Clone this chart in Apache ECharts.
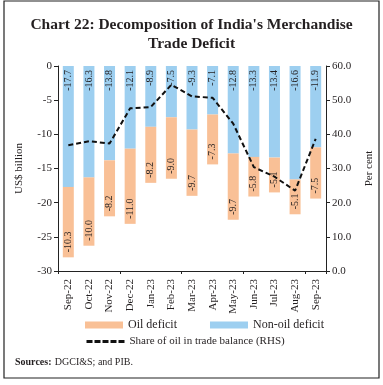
<!DOCTYPE html>
<html><head><meta charset="utf-8">
<script src="https://cdn.jsdelivr.net/npm/echarts@6/dist/echarts.min.js"></script>
<style>html,body{margin:0;padding:0;background:#fff}#c{width:383px;height:385px}</style>
</head><body><div id="c"></div>
<script>
const categories = ['Sep-22','Oct-22','Nov-22','Dec-22','Jan-23','Feb-23','Mar-23','Apr-23','May-23','Jun-23','Jul-23','Aug-23','Sep-23'];
const nonOil = [-17.7,-16.3,-13.8,-12.1,-8.9,-7.5,-9.3,-7.1,-12.8,-13.3,-13.4,-16.6,-11.9];
const oil = [-10.3,-10.0,-8.2,-11.0,-8.2,-9.0,-9.7,-7.3,-9.7,-5.8,-5.1,-5.1,-7.5];
const oilShare = [36.8,38.0,37.3,47.6,48.0,54.5,51.1,50.7,43.1,30.4,27.6,23.5,38.7];
const leftTicks = [-30,-25,-20,-15,-10,-5,0];
const rightTicks = [0,10,20,30,40,50,60];

const F = 'Liberation Serif';
const TXT = '#231F20';
const chart = echarts.init(document.getElementById('c'));
chart.setOption({
  animation:false,
  textStyle:{fontFamily:F,color:TXT},
  title:{text:"Chart 22: Decomposition of India's Merchandise\nTrade Deficit",left:'center',top:10,
    textStyle:{fontFamily:F,fontWeight:'bold',fontSize:15.5,lineHeight:19,color:TXT}},
  grid:{left:58,right:55,top:66,bottom:114},
  legend:[
    {data:['Oil deficit','Non-oil deficit'],left:80,top:314,itemWidth:38,itemHeight:7,itemGap:33,
     icon:'rect',textStyle:{fontFamily:F,fontSize:12,fontWeight:'normal',color:TXT}},
    {data:['Share of oil in trade balance (RHS)'],left:80,top:331,itemWidth:38,itemHeight:7,
     itemStyle:{opacity:0},lineStyle:{width:3,type:[6,2],color:'#111'},
     textStyle:{fontFamily:F,fontSize:11,color:TXT}}
  ],
  graphic:[
    {type:'rect',shape:{x:4,y:1,width:375,height:377},style:{fill:'none',stroke:'#222',lineWidth:1.2}},
    {type:'text',left:15,top:356,style:{rich:{b:{fontWeight:'bold',fontFamily:F,fontSize:10,fill:TXT},n:{fontFamily:F,fontSize:10,fill:TXT}},text:'{b|Sources:} {n|DGCI&S; and PIB.}'}}
  ],
  xAxis:[
    {type:'category',data:categories,position:'bottom',axisLine:{show:false},axisTick:{show:false},
     axisLabel:{rotate:90,fontFamily:F,fontSize:11,color:TXT,margin:8}},
    {type:'category',data:categories,position:'top',axisLine:{show:true,lineStyle:{color:'#222',width:1}},
     axisTick:{show:true,inside:true,length:3,lineStyle:{color:'#222'}},axisLabel:{show:false}}
  ],
  yAxis:[
    {type:'value',min:-30,max:0,interval:5,name:'US$ billion',nameLocation:'middle',nameGap:33,
     nameTextStyle:{fontFamily:F,fontSize:11,color:TXT},
     axisLine:{show:true,lineStyle:{color:'#222'}},axisTick:{show:true,length:4,lineStyle:{color:'#222'}},
     splitLine:{show:false},axisLabel:{fontFamily:F,fontSize:11,color:TXT,margin:6}},
    {type:'value',min:0,max:60,interval:10,name:'Per cent',nameLocation:'middle',nameGap:38,nameRotate:90,
     nameTextStyle:{fontFamily:F,fontSize:11,color:TXT},
     axisLine:{show:true,lineStyle:{color:'#222'}},axisTick:{show:true,length:4,lineStyle:{color:'#222'}},
     splitLine:{show:false},axisLabel:{fontFamily:F,fontSize:11,color:TXT,margin:6,formatter:v=>v.toFixed(1)}}
  ],
  series:[
    {name:'Non-oil deficit',type:'bar',stack:'t',data:nonOil,barWidth:11,itemStyle:{color:'#9DCFF0'},
     label:{show:true,position:'insideTop',rotate:90,align:'right',verticalAlign:'middle',distance:4,
       fontFamily:F,fontSize:10,color:TXT,formatter:p=>p.value.toFixed(1)}},
    {name:'Oil deficit',type:'bar',stack:'t',data:oil,barWidth:11,itemStyle:{color:'#F9C096'},
     label:{show:true,position:'insideBottom',rotate:90,align:'left',verticalAlign:'middle',distance:5,
       fontFamily:F,fontSize:10,color:TXT,formatter:p=>p.value.toFixed(1)}},
    {name:'Share of oil in trade balance (RHS)',type:'line',yAxisIndex:1,data:oilShare,symbol:'none',
     lineStyle:{color:'#111',width:2,type:[5,3]},itemStyle:{color:'#111'},z:5}
  ]
});
</script></body></html>
